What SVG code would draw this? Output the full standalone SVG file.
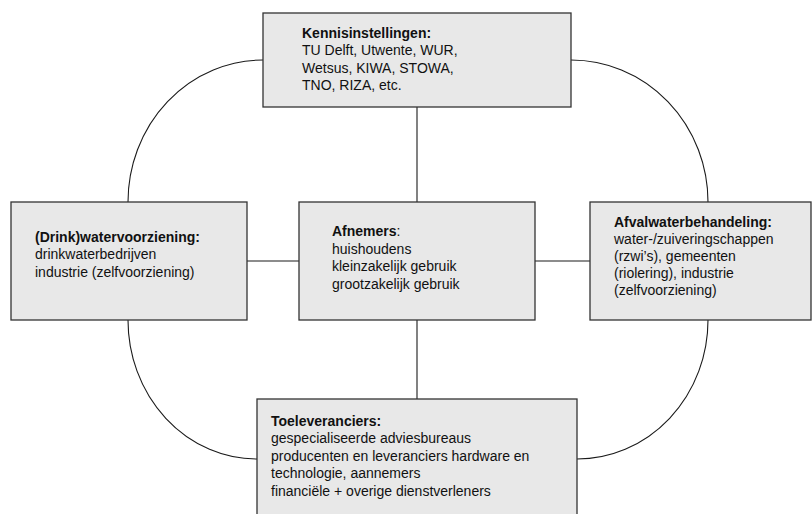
<svg xmlns="http://www.w3.org/2000/svg" width="812" height="514" viewBox="0 0 812 514">
<style>
.box{fill:#e8e8e8;stroke:#333;stroke-width:1.3}
.con{fill:none;stroke:#1a1a1a;stroke-width:1.1}
text{font-family:"Liberation Sans",Arial,sans-serif;font-size:14px;fill:#111}
.b{font-weight:bold}
</style>
<rect width="812" height="514" fill="#fff"/>
<g id="connectors">
<line class="con" x1="417" y1="107" x2="417" y2="202"/>
<line class="con" x1="417" y1="320" x2="417" y2="399"/>
<line class="con" x1="247" y1="261" x2="299" y2="261"/>
<line class="con" x1="535" y1="261" x2="590" y2="261"/>
<path class="con" d="M263,60 A135,142 0 0 0 128,202"/>
<path class="con" d="M571,60 A137,142 0 0 1 708,202"/>
<path class="con" d="M708,320 A131,139 0 0 1 577,459"/>
<path class="con" d="M128,320 A129,139 0 0 0 257,459"/>
</g>
<g id="kennis">
<rect class="box" x="263" y="13" width="308" height="94"/>
<text x="302" y="37.5"><tspan class="b">Kennisinstellingen:</tspan><tspan x="302" dy="17.5">TU Delft, Utwente, WUR,</tspan><tspan x="302" dy="17.5">Wetsus, KIWA, STOWA,</tspan><tspan x="302" dy="17.5">TNO, RIZA, etc.</tspan></text>
</g>
<g id="drinkwater">
<rect class="box" x="11" y="202" width="236" height="118"/>
<text x="35" y="241.5"><tspan class="b">(Drink)watervoorziening:</tspan><tspan x="35" dy="17.5">drinkwaterbedrijven</tspan><tspan x="35" dy="17.5">industrie (zelfvoorziening)</tspan></text>
</g>
<g id="afnemers">
<rect class="box" x="299" y="202" width="236" height="118"/>
<text x="332" y="236"><tspan class="b">Afnemers</tspan>:<tspan x="332" dy="17.5">huishoudens</tspan><tspan x="332" dy="17.5">kleinzakelijk gebruik</tspan><tspan x="332" dy="17.5">grootzakelijk gebruik</tspan></text>
</g>
<g id="afvalwater">
<rect class="box" x="590" y="202" width="221" height="118"/>
<text x="614" y="227"><tspan class="b">Afvalwaterbehandeling:</tspan><tspan x="614" dy="17">water-/zuiveringschappen</tspan><tspan x="614" dy="17">(rzwi’s), gemeenten</tspan><tspan x="614" dy="17">(riolering), industrie</tspan><tspan x="614" dy="17">(zelfvoorziening)</tspan></text>
</g>
<g id="toeleveranciers">
<rect class="box" x="257" y="399" width="320" height="125"/>
<text x="271" y="425.5"><tspan class="b">Toeleveranciers:</tspan><tspan x="271" dy="17.5">gespecialiseerde adviesbureaus</tspan><tspan x="271" dy="17.5">producenten en leveranciers hardware en</tspan><tspan x="271" dy="17.5">technologie, aannemers</tspan><tspan x="271" dy="17.5">financiële + overige dienstverleners</tspan></text>
</g>
</svg>
